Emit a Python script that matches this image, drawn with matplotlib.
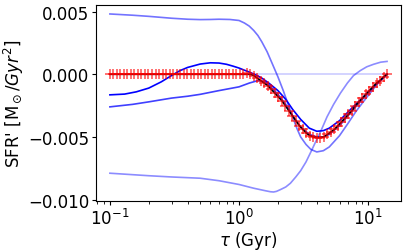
import matplotlib
matplotlib.use('Agg')
import matplotlib.pyplot as plt
import numpy as np

# sample grid shared by the true curve and the red crosses
tau_grid = np.geomspace(0.1, 14.0, 80)

# true SFR' (black) and reconstruction (red +) on that grid
dip_true = [0.0, 0.0, 0.0, 0.0, -0.0001, -0.0003, -0.0005, -0.0007, -0.0009,
            -0.0012, -0.0015, -0.0018, -0.0021, -0.0025, -0.0029, -0.0033,
            -0.0037, -0.0041, -0.0044, -0.0047, -0.0049, -0.0050, -0.00505,
            -0.00505, -0.0050, -0.0048, -0.0046, -0.0044, -0.0041, -0.0038,
            -0.0035, -0.0032, -0.0029, -0.0025, -0.0022, -0.0019, -0.0016,
            -0.0013, -0.0010, -0.0007, -0.0005, -0.0002, 0.0]
dip_reco = [0.0, 0.00005, 0.0001, 0.00005, -0.0001, -0.0003, -0.0005, -0.0007,
            -0.0009, -0.0012, -0.0015, -0.0018, -0.0021, -0.0025, -0.0029,
            -0.0033, -0.0037, -0.0041, -0.0044, -0.0047, -0.0049, -0.0050,
            -0.00505, -0.00505, -0.0050, -0.0048, -0.0046, -0.0044, -0.0041,
            -0.0038, -0.0035, -0.0032, -0.0029, -0.0025, -0.0022, -0.0019,
            -0.0016, -0.0013, -0.0010, -0.0007, -0.0005, -0.0002, 0.0]
sfr_true = [0.0] * 37 + dip_true
sfr_reco = [0.0] * 37 + dip_reco

# blue curves
tau_a = [0.1, 0.13, 0.16, 0.2, 0.25, 0.3, 0.35, 0.4, 0.5, 0.6, 0.7, 0.8, 0.9,
         1.0, 1.1, 1.2, 1.35, 1.5, 1.7, 2.0, 2.3, 2.6, 3.0, 3.5, 4.0, 4.5,
         5.0, 6.0, 7.0, 8.0, 9.0, 10.0, 11.5, 13.0, 14.0]
sfr_a = [-0.00164, -0.00158, -0.0014, -0.0011, -0.0006, -0.0001, 0.0003,
         0.00055, 0.00082, 0.00092, 0.0009, 0.0008, 0.00065, 0.0005, 0.00033,
         0.00018, -0.00005, -0.0003, -0.0007, -0.0013, -0.0020, -0.0028,
         -0.0036, -0.0043, -0.00455, -0.0045, -0.0043, -0.0037, -0.0030,
         -0.0024, -0.0019, -0.0014, -0.0008, -0.0003, 0.0]

tau_b = [0.1, 0.15, 0.2, 0.3, 0.4, 0.5, 0.7, 1.0, 1.2, 1.4, 1.6, 1.8, 2.0,
         2.3, 2.6, 3.0, 3.5, 4.0, 4.5, 5.0, 6.0, 7.0, 8.0, 9.0, 10.0, 11.5,
         13.0, 14.0]
sfr_b = [-0.0026, -0.0024, -0.0022, -0.0019, -0.00175, -0.0016, -0.0013,
         -0.0010, -0.0007, -0.0005, -0.0006, -0.0011, -0.0016, -0.0024,
         -0.0033, -0.0042, -0.0048, -0.0050, -0.0050, -0.0048, -0.0041,
         -0.0033, -0.0026, -0.0020, -0.0015, -0.0008, -0.0003, 0.0]

tau_c = [0.1, 0.15, 0.2, 0.3, 0.4, 0.5, 0.6, 0.7, 0.85, 1.0, 1.1, 1.2, 1.3,
         1.4, 1.5, 1.65, 1.8, 2.0, 2.2, 2.4, 2.6, 2.8, 3.0, 3.3, 3.6, 4.0,
         4.5, 5.0, 6.0, 7.0, 8.0, 9.0, 10.0, 11.5, 13.0, 14.0]
sfr_c = [0.00482, 0.00472, 0.00463, 0.00448, 0.0044, 0.00437, 0.00438,
         0.0044, 0.00438, 0.0043, 0.0041, 0.00385, 0.0035, 0.0031, 0.0026,
         0.0018, 0.0009, -0.0002, -0.0013, -0.0024, -0.0034, -0.0043,
         -0.0050, -0.0056, -0.0060, -0.0062, -0.0061, -0.0058, -0.0049,
         -0.0039, -0.0030, -0.0023, -0.0017, -0.0009, -0.0003, 0.0]

tau_d = [0.1, 0.2, 0.3, 0.5, 0.7, 1.0, 1.3, 1.6, 1.75, 1.85, 1.95, 2.1, 2.3,
         2.5, 2.75, 3.0, 3.3, 3.6, 4.0, 4.4, 4.8, 5.4, 6.1, 6.9, 7.7, 8.7,
         9.75, 11.0, 12.5, 14.0]
sfr_d = [-0.0079, -0.0081, -0.0082, -0.0083, -0.0085, -0.0088, -0.0091,
         -0.0093, -0.00938, -0.0094, -0.00935, -0.0092, -0.0090, -0.0087,
         -0.0082, -0.0077, -0.0070, -0.0062, -0.0052, -0.0043, -0.0034,
         -0.0024, -0.0015, -0.0007, -0.0001, 0.0003, 0.0006, 0.0008,
         0.00097, 0.00103]

tau_zero = [0.1, 14.0]
sfr_zero = [0.0, 0.0]

fig = plt.figure(figsize=(4.07, 2.53), dpi=100)
ax = fig.add_axes([0.236, 0.202, 0.749, 0.774])

ax.plot(tau_zero, sfr_zero, color='blue', alpha=0.2, lw=1.2)
ax.plot(tau_d, sfr_d, color='blue', alpha=0.45, lw=1.2)
ax.plot(tau_c, sfr_c, color='blue', alpha=0.55, lw=1.2)
ax.plot(tau_b, sfr_b, color='blue', alpha=0.75, lw=1.2)
ax.plot(tau_a, sfr_a, color='blue', alpha=1.0, lw=1.2)
ax.plot(tau_grid, sfr_true, color='black', lw=1.2)
ax.plot(tau_grid, sfr_reco, '+', color='red', alpha=0.7, ms=6.5, mew=1.1)

ax.set_xscale('log')
ax.set_xlabel(r'$\tau$ (Gyr)', fontsize=12, labelpad=1)
ax.set_ylabel(r"SFR' [M$_\odot$/$Gyr^2$]", fontsize=12, labelpad=1)
ax.tick_params(which='major', length=3, pad=2, labelsize=12)
ax.tick_params(which='minor', length=1.8)

fig.savefig('out.png', dpi=100, facecolor='white')
